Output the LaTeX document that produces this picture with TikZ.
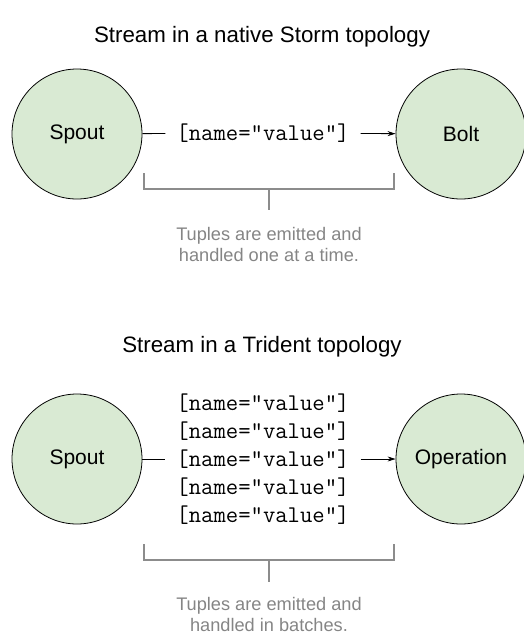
\documentclass[tikz,border=0pt]{standalone}
\usepackage{fontspec}
\setmainfont{Liberation Sans}
\usetikzlibrary{arrows.meta,calc,positioning}
\definecolor{nodegreen}{HTML}{D9EAD3}
\definecolor{bracegray}{HTML}{8C8C8C}
\definecolor{notegray}{HTML}{858585}

\begin{document}
\begin{tikzpicture}[x=1pt,y=-1pt,
  title/.style={font=\fontsize{22.3}{26}\selectfont},
  comp/.style={circle,draw=black,line width=0.8pt,fill=nodegreen,minimum size=130pt,inner sep=0pt,font=\fontsize{21}{25}\selectfont},
  tuple/.style={font=\ttfamily\fontsize{24}{28}\selectfont,inner xsep=11pt,inner ysep=2pt},
  flow/.style={line width=0.8pt,-{Stealth[length=8pt,width=5pt]}},
  brace/.style={draw=bracegray,line width=1.2pt},
  note/.style={text=notegray,align=center,font=\fontsize{18.2}{21}\selectfont}]
\useasboundingbox (0,0) rectangle (523,635);

% native Storm
\node[title] (title1) at (262,37) {Stream in a native Storm topology};
\node[comp] (spout1) at (77,134) {Spout};
\node[comp] (bolt) at (461,134) {Bolt};
\node[tuple] (tup1) at (263,133) {[name="value"]};
\draw[line width=0.8pt] (spout1) -- (tup1);
\draw[flow] (tup1) -- (bolt);
\coordinate (b1l) at (144,173);
\coordinate (b1r) at (394,173);
\draw[brace] (b1l) -- ++(0,16) -| (b1r);
\draw[brace] ($(b1l)!0.5!(b1r)+(0,16)$) -- ++(0,21);
\node[note] (note1) at (269,244) {Tuples are emitted and\\handled one at a time.};

% Trident
\node[title] (title2) at (262,347) {Stream in a Trident topology};
\node[comp] (spout2) at (77,459) {Spout};
\node[comp] (oper) at (461,459) {Operation};
\foreach \i in {1,...,5}
  \node[tuple] (t\i) at (263,375+28*\i) {[name="value"]};
\draw[line width=0.8pt] (spout2) -- (t3);
\draw[flow] (t3) -- (oper);
\coordinate (b2l) at (144,544);
\coordinate (b2r) at (394,544);
\draw[brace] (b2l) -- ++(0,16) -| (b2r);
\draw[brace] ($(b2l)!0.5!(b2r)+(0,16)$) -- ++(0,22);
\node[note] (note2) at (269,614) {Tuples are emitted and\\handled in batches.};
\end{tikzpicture}
\end{document}
